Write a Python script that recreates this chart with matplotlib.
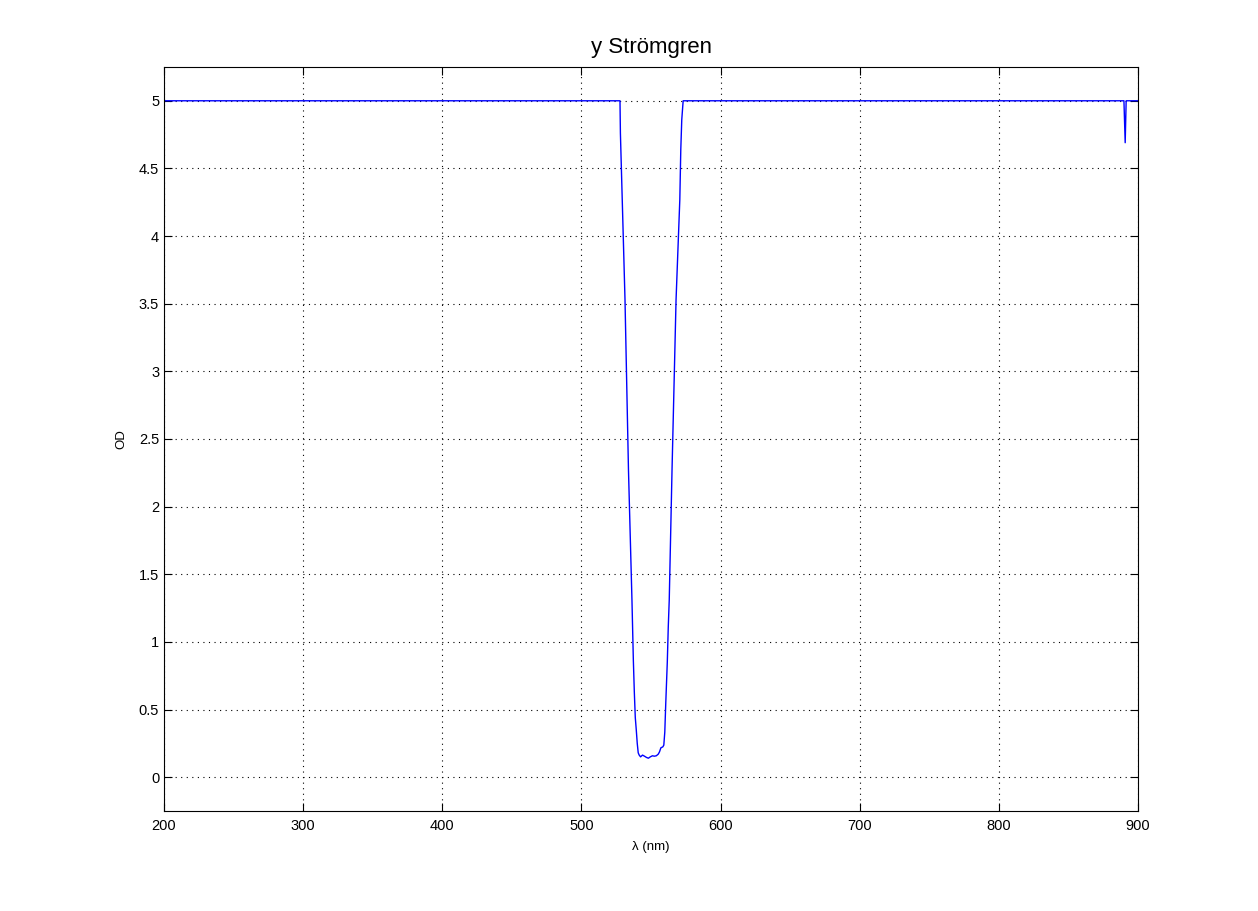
import numpy as np
import matplotlib.pyplot as plt
from matplotlib.ticker import FuncFormatter

plt.rcParams['font.family'] = ['Liberation Sans', 'DejaVu Sans']

# Data: wavelength (nm) and optical density
wl = [200, 527.7, 528.0, 531.3, 533.8, 536.3, 537.3, 538.0, 538.7, 539.4, 540.1,
      540.8, 541.5, 542.5, 543.9, 545.3, 546.7, 548.1, 549.5, 551.0, 552.4,
      553.8, 555.2, 556.1, 557.1, 558.5, 559.2, 559.9, 560.6, 561.7, 562.4,
      563.1, 565.1, 568.0, 570.7, 571.4, 572.1, 573.1, 889.9, 890.8, 891.5, 900]
od = [5, 5, 4.76, 3.53, 2.27, 1.31, 0.865, 0.63, 0.44, 0.35, 0.25,
      0.18, 0.163, 0.15, 0.163, 0.155, 0.146, 0.14, 0.15, 0.158, 0.155,
      0.158, 0.17, 0.187, 0.217, 0.224, 0.237, 0.333, 0.547, 0.85, 1.11,
      1.31, 2.27, 3.53, 4.27, 4.64, 4.86, 5, 5, 4.69, 5, 5]

fig = plt.figure(figsize=(12.58, 9.11), dpi=100)
ax = fig.add_axes([0.1304, 0.1098, 0.7742, 0.8167])
ax.plot(wl, od, color='#0000ff', linewidth=1)

ax.set_xlim(200, 900)
ax.set_ylim(-0.25, 5.25)
ax.set_xticks(np.arange(200, 901, 100))
ax.set_yticks(np.arange(0, 5.01, 0.5))
ax.yaxis.set_major_formatter(FuncFormatter(lambda v, p: '%g' % v))
ax.tick_params(direction='in', top=True, right=True, labelsize=10.5, length=6)
ax.tick_params(axis='x', pad=5.5)
ax.tick_params(axis='y', pad=3.5)
ax.grid(True, color='black', linestyle=(0, (1, 4)), linewidth=0.8)

ax.set_title('y Strömgren', fontsize=16, pad=10)
ax.set_xlabel('λ (nm)', fontsize=9.5, labelpad=6)
ax.set_ylabel('OD', fontsize=9.5, labelpad=8)

fig.savefig('out.png', dpi=100)
